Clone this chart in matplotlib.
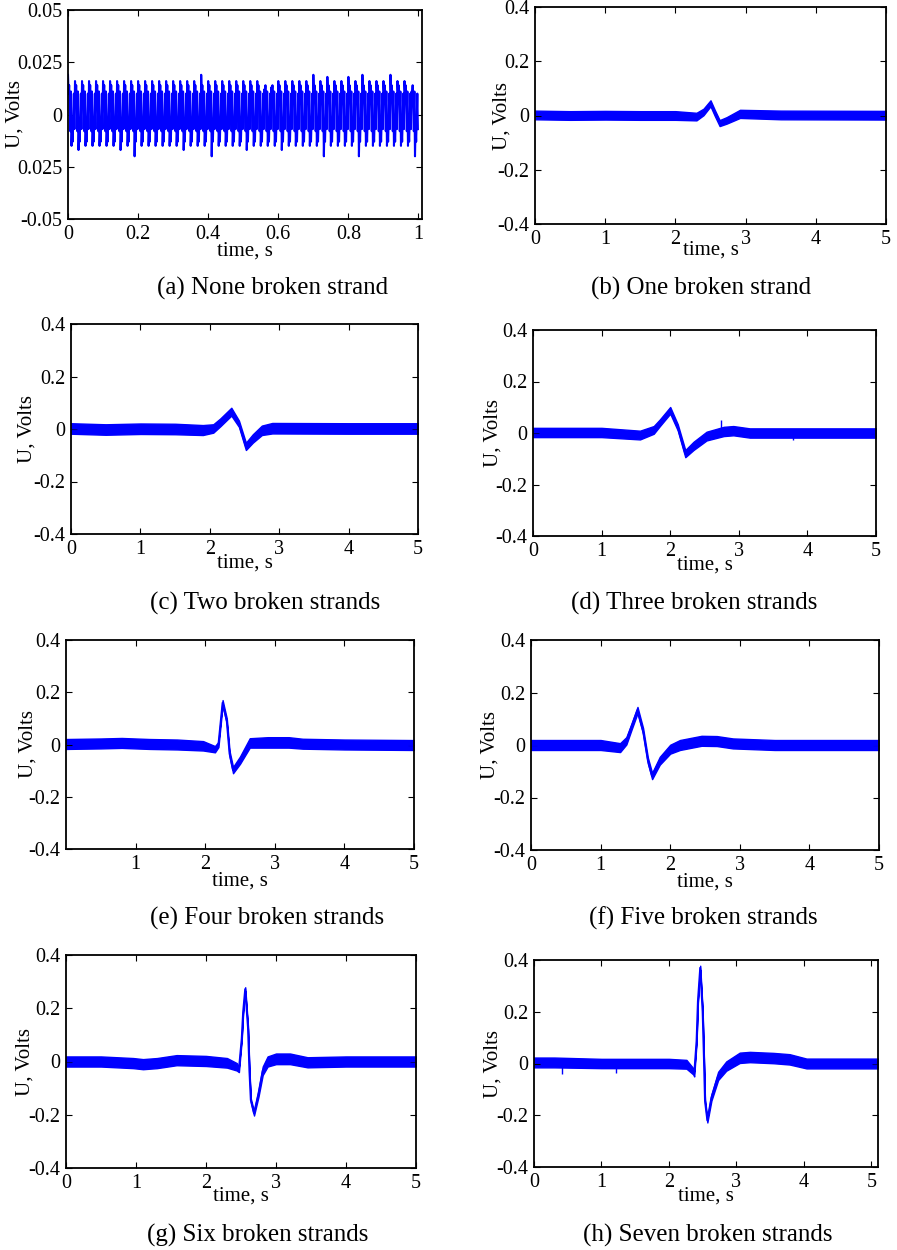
import numpy as np
import matplotlib
matplotlib.use('Agg')
import matplotlib.pyplot as plt

plt.rcParams['font.family'] = ['Liberation Serif', 'DejaVu Serif']

BLUE = '#0000ff'

# --- (a) none broken strand: peak / trough of every 50 Hz cycle (V)
a_top = [0.019, 0.016, 0.016, 0.016, 0.016, 0.016, 0.016, 0.016, 0.016, 0.016,
         0.016, 0.016, 0.016, 0.016, 0.016, 0.016, 0.016, 0.016, 0.016, 0.019,
         0.016, 0.016, 0.016, 0.016, 0.016, 0.016, 0.016, 0.016, 0.012, 0.013,
         0.016, 0.016, 0.016, 0.016, 0.016, 0.019, 0.016, 0.018, 0.016, 0.016,
         0.018, 0.016, 0.019, 0.016, 0.016, 0.016, 0.019, 0.016, 0.016, 0.011]
a_bot = [-0.015, -0.017, -0.015, -0.015, -0.015, -0.015, -0.015, -0.017, -0.015, -0.020,
         -0.015, -0.015, -0.015, -0.015, -0.015, -0.015, -0.017, -0.015, -0.015, -0.015,
         -0.020, -0.015, -0.015, -0.015, -0.015, -0.017, -0.015, -0.015, -0.015, -0.015,
         -0.017, -0.015, -0.015, -0.015, -0.015, -0.015, -0.020, -0.015, -0.015, -0.015,
         -0.015, -0.020, -0.015, -0.015, -0.015, -0.015, -0.015, -0.015, -0.015, -0.020]
# ripple riding on each cycle: after the peak, then after the trough
a_ripple_hi = [0.010, 0.014, 0.006, -0.008, 0.011]
a_ripple_lo = [-0.006, -0.013, -0.002, 0.010, -0.007]

# --- (b)-(h): time (s), centre of the trace (V), half width of the noise band (V)
t_b = [0, 0.5, 1.0, 1.5, 2.0, 2.30, 2.40, 2.50, 2.56, 2.63, 2.73, 2.92, 3.5, 5.0]
u_b = [0.002, 0.0, 0.001, 0.0, 0.0, -0.004, 0.013, 0.045, 0.01, -0.028, -0.018, 0.006, 0.002, 0.001]
w_b = [0.016, 0.016, 0.016, 0.016, 0.016, 0.014, 0.012, 0.011, 0.011, 0.011, 0.012, 0.015, 0.016, 0.016]

t_c = [0, 0.5, 1.0, 1.5, 1.9, 2.05, 2.15, 2.31, 2.42, 2.52, 2.62, 2.75, 2.9, 4.0, 5.0]
u_c = [0.002, -0.002, 0.001, 0.0, -0.004, 0.002, 0.025, 0.066, 0.02, -0.066, -0.036, -0.005, 0.003, 0.002, 0.002]
w_c = [0.02, 0.02, 0.02, 0.02, 0.019, 0.016, 0.015, 0.015, 0.012, 0.014, 0.016, 0.018, 0.02, 0.02, 0.02]

t_d = [0, 0.5, 1.0, 1.56, 1.76, 1.85, 2.0, 2.11, 2.22, 2.34, 2.53, 2.78, 2.92, 3.16, 4.0, 5.0]
u_d = [0.002, 0.002, 0.002, -0.008, 0.012, 0.04, 0.088, 0.022, -0.08, -0.05, -0.012, 0.006, 0.009, 0.0, 0.0, 0.0]
w_d = [0.018, 0.018, 0.018, 0.017, 0.015, 0.013, 0.013, 0.012, 0.014, 0.016, 0.017, 0.018, 0.018, 0.018, 0.018, 0.018]
sp_t_d = [2.74, 3.79]
sp_u_d = [0.05, -0.027]

t_e = [0, 0.5, 0.8, 1.2, 1.6, 1.97, 2.14, 2.19, 2.25, 2.31, 2.35, 2.40, 2.50, 2.64, 2.9, 3.2, 3.4, 4.0, 5.0]
u_e = [0.002, 0.004, 0.006, 0.002, 0.0, -0.005, -0.018, 0.0, 0.16, 0.09, -0.035, -0.098, -0.06, 0.006, 0.008, 0.008, 0.003, 0.0, -0.002]
w_e = [0.019, 0.019, 0.019, 0.019, 0.019, 0.018, 0.012, 0.01, 0.01, 0.01, 0.01, 0.012, 0.014, 0.018, 0.02, 0.02, 0.019, 0.019, 0.019]

t_f = [0, 0.5, 1.0, 1.28, 1.37, 1.44, 1.53, 1.61, 1.68, 1.74, 1.85, 2.0, 2.14, 2.45, 2.67, 2.9, 3.5, 5.0]
u_f = [0.0, 0.0, 0.0, -0.01, 0.016, 0.067, 0.133, 0.054, -0.06, -0.118, -0.06, -0.016, 0.0, 0.016, 0.015, 0.006, 0.0, 0.0]
w_f = [0.019, 0.019, 0.019, 0.017, 0.014, 0.012, 0.012, 0.011, 0.011, 0.012, 0.015, 0.017, 0.019, 0.019, 0.019, 0.019, 0.019, 0.019]

t_g = [0, 0.5, 0.96, 1.1, 1.3, 1.58, 2.0, 2.3, 2.44, 2.47, 2.51, 2.53, 2.56, 2.60, 2.62, 2.64,
       2.686, 2.75, 2.81, 2.88, 3.0, 3.2, 3.45, 4.0, 5.0]
u_g = [0.0, 0.0, -0.006, -0.01, -0.006, 0.005, 0.002, -0.005, -0.02, -0.03, 0.085, 0.185, 0.272, 0.126, -0.035, -0.145,
       -0.195, -0.12, -0.035, 0.0, 0.01, 0.01, -0.003, 0.0, 0.0]
w_g = [0.019, 0.019, 0.019, 0.019, 0.019, 0.019, 0.019, 0.018, 0.014, 0.01, 0.006, 0.006, 0.007, 0.006, 0.006, 0.006,
       0.008, 0.012, 0.016, 0.019, 0.02, 0.02, 0.019, 0.019, 0.019]

t_h = [0, 0.3, 1.0, 2.0, 2.26, 2.36, 2.375, 2.41, 2.43, 2.464, 2.50, 2.52, 2.535, 2.57, 2.63, 2.73,
       2.85, 3.05, 3.2, 3.55, 3.79, 4.04, 5.1]
u_h = [0.004, 0.004, 0.0, 0.0, -0.003, -0.03, -0.04, 0.087, 0.241, 0.37, 0.2, 0.01, -0.145, -0.22, -0.132, -0.048,
       -0.01, 0.022, 0.025, 0.021, 0.016, 0.0, 0.0]
w_h = [0.019, 0.019, 0.018, 0.018, 0.017, 0.012, 0.01, 0.006, 0.006, 0.008, 0.006, 0.006, 0.006, 0.008, 0.012, 0.016,
       0.018, 0.02, 0.02, 0.02, 0.02, 0.019, 0.019]
sp_t_h = [0.41, 1.22]
sp_u_h = [-0.042, -0.038]

captions = ['(a) None broken strand', '(b) One broken strand',
            '(c) Two broken strands', '(d) Three broken strands',
            '(e) Four broken strands', '(f) Five broken strands',
            '(g) Six broken strands', '(h) Seven broken strands']

# layout in pixels of the 897x1250 picture: axes box (x0, y0, x1, y1)
W, H = 897, 1250
boxes = [(68, 10, 422, 219), (535, 7, 886, 224),
         (71, 324, 418, 534), (533, 330, 876, 536),
         (66, 640, 414, 849), (531, 640, 879, 850),
         (66, 955, 416, 1168), (534, 960, 878, 1167)]
cap_pos = [(273, 288), (701, 288), (265, 603), (694, 603),
           (267, 918), (703, 918), (258, 1235), (708, 1235)]
ylab_x = [-0.15, -0.094, -0.127, -0.117, -0.109, -0.118, -0.117, -0.119]
xlab_off = [32, 26, 29, 29, 32, 32, 28, 29]

fig = plt.figure(figsize=(W / 100, H / 100), dpi=100)
axes = []
for (x0, y0, x1, y1) in boxes:
    ax = fig.add_axes([x0 / W, 1 - y1 / H, (x1 - x0) / W, (y1 - y0) / H])
    axes.append(ax)


def style(ax, k):
    for s in ax.spines.values():
        s.set_linewidth(1.3)
    ax.tick_params(direction='in', top=True, right=True, length=4, width=0.8,
                   labelsize=14.5, pad=4)
    ax.set_ylabel('U, Volts', fontsize=15, va='center')
    ax.yaxis.set_label_coords(ylab_x[k], 0.5)
    ax.set_xlabel('time, s', fontsize=15, va='center')
    x0, y0, x1, y1 = boxes[k]
    ax.xaxis.set_label_coords(0.5, -xlab_off[k] / (y1 - y0))


# (a)
ax = axes[0]
ta, ua = [], []
for i in range(len(a_top)):
    vals = [a_top[i]] + a_ripple_hi + [a_bot[i]] + a_ripple_lo
    for k, v in enumerate(vals):
        ta.append(i / 50 + k / (50 * len(vals)))
        ua.append(v)
ax.plot(ta, ua, color=BLUE, lw=1.5)
ax.set_xlim(0, 1.01)
ax.set_ylim(-0.05, 0.05)
ax.set_xticks([0, 0.2, 0.4, 0.6, 0.8, 1])
ax.set_xticklabels(['0', '0.2', '0.4', '0.6', '0.8', '1'])
ax.set_yticks([-0.05, -0.025, 0, 0.025, 0.05])
ax.set_yticklabels(['-0.05', '0.025', '0', '0.025', '0.05'])
style(ax, 0)

series = [(t_b, u_b, w_b), (t_c, u_c, w_c), (t_d, u_d, w_d), (t_e, u_e, w_e),
          (t_f, u_f, w_f), (t_g, u_g, w_g), (t_h, u_h, w_h)]
for k, (t, u, w) in enumerate(series, start=1):
    ax = axes[k]
    t = np.array(t)
    u = np.array(u)
    w = np.array(w)
    ax.fill_between(t, u - w, u + w, color=BLUE, lw=1.0)
    ax.plot(t, u, color=BLUE, lw=1.4)
    ax.set_ylim(-0.4, 0.4)
    ax.set_yticks([-0.4, -0.2, 0, 0.2, 0.4])
    ax.set_yticklabels(['-0.4', '-0.2', '0', '0.2', '0.4'])
    if k == 4:
        ax.set_xticks([1, 2, 3, 4, 5])
    else:
        ax.set_xticks([0, 1, 2, 3, 4, 5])
    ax.set_xlim(0, 5.1 if k == 7 else 5)
    style(ax, k)

axes[3].vlines(sp_t_d, 0, sp_u_d, color=BLUE, lw=1.0)
axes[7].vlines(sp_t_h, 0, sp_u_h, color=BLUE, lw=1.0)

for (cx, cy), txt in zip(cap_pos, captions):
    fig.text(cx / W, 1 - cy / H, txt, ha='center', va='center', fontsize=18)

fig.savefig('out.png', dpi=100)
